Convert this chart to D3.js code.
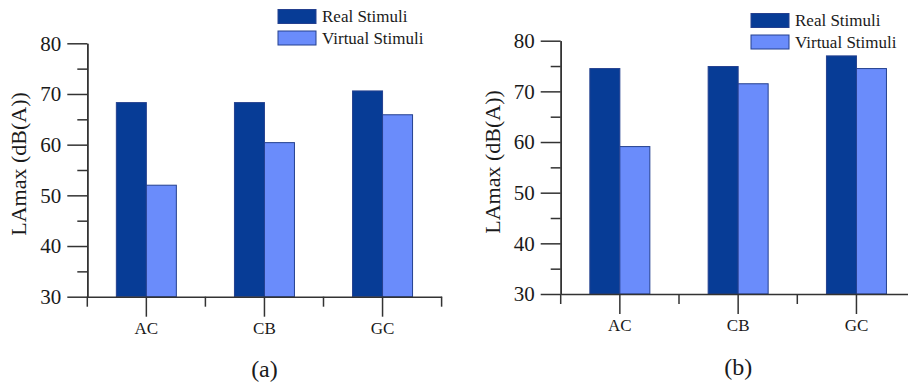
<!DOCTYPE html>
<html>
<head>
<meta charset="utf-8">
<script src="https://cdn.jsdelivr.net/npm/d3@7"></script>
<style>
  body { margin: 0; background: #fff; }
  svg { display: block; font-family: "Liberation Serif", "Times New Roman", serif; }
  .axis path, .axis line { stroke: #333; stroke-width: 1.5; }
  .axis text { font-size: 21px; fill: #1a1a1a; font-family: "Liberation Serif", serif; }
</style>
</head>
<body>
<svg id="chart" width="908" height="391"></svg>
<script>
// data
var categories = ['AC', 'CB', 'GC'];
var seriesNames = ['Real Stimuli', 'Virtual Stimuli'];
var realA = [68.3, 68.3, 70.6];
var virtualA = [52.0, 60.4, 65.9];
var realB = [74.5, 74.9, 77.0];
var virtualB = [59.1, 71.5, 74.5];
var yTicks = [30, 40, 50, 60, 70, 80];
var yMinorTicks = [35, 45, 55, 65, 75];

var colors = ['#073c96', '#6a8cfb'];
var strokeColor = '#24408f';

var svg = d3.select('#chart');

// one panel = one grouped bar chart
function drawPanel(opt) {
  var g = svg.append('g');

  var y = d3.scaleLinear().domain([30, 80]).range([opt.bottom, opt.top]);
  var x0 = d3.scaleBand().domain(categories).range([opt.left, opt.left + opt.step * categories.length]);
  var bw = x0.bandwidth();
  var x1 = d3.scaleBand().domain(seriesNames).range([bw / 2 - opt.barW, bw / 2 + opt.barW]);

  var rows = categories.map(function(c, i) {
    return { cat: c, values: [opt.real[i], opt.virtual[i]] };
  });

  // bars
  var groups = g.selectAll('g.cat')
    .data(rows)
    .enter()
    .append('g')
      .attr('class', 'cat')
      .attr('transform', function(d) { return 'translate(' + x0(d.cat) + ',0)'; });

  groups.selectAll('rect')
    .data(function(d) { return d.values.map(function(v, j) { return { s: seriesNames[j], v: v, j: j }; }); })
    .enter()
    .append('rect')
      .attr('x', function(d) { return x1(d.s); })
      .attr('width', x1.bandwidth())
      .attr('y', function(d) { return y(d.v); })
      .attr('height', function(d) { return y(30) - y(d.v); })
      .style('fill', function(d) { return colors[d.j]; })
      .style('stroke', strokeColor)
      .style('stroke-width', 1);

  // y axis, major + minor ticks
  g.append('g')
    .attr('class', 'axis')
    .attr('transform', 'translate(' + opt.left + ',0)')
    .call(d3.axisLeft(y).tickValues(yTicks).tickSize(20).tickSizeOuter(0).tickPadding(6));
  g.append('g')
    .attr('class', 'axis')
    .attr('transform', 'translate(' + opt.left + ',0)')
    .call(d3.axisLeft(y).tickValues(yMinorTicks).tickSize(10).tickSizeOuter(0).tickFormat(''));

  // x axis, category ticks + boundary ticks
  var xAxis = g.append('g')
    .attr('class', 'axis')
    .attr('transform', 'translate(0,' + opt.bottom + ')')
    .call(d3.axisBottom(x0).tickSize(20).tickSizeOuter(0).tickPadding(5));
  xAxis.selectAll('text').style('font-size', '17px');

  var bounds = d3.range(categories.length + 1).map(function(i) { return opt.left + i * x0.step(); });
  xAxis.selectAll('line.minor')
    .data(bounds)
    .enter()
    .append('line')
      .attr('class', 'minor')
      .attr('x1', function(d) { return d; })
      .attr('x2', function(d) { return d; })
      .attr('y1', 0)
      .attr('y2', 10);

  // y axis title
  g.append('text')
    .attr('transform', 'translate(' + opt.titleX + ',' + opt.titleY + ') rotate(-90)')
    .attr('text-anchor', 'middle')
    .style('font-size', '22px')
    .style('fill', '#1a1a1a')
    .text('LAmax (dB(A))');

  // panel label
  g.append('text')
    .attr('x', opt.left + opt.step * 1.5)
    .attr('y', opt.labelY)
    .attr('text-anchor', 'middle')
    .style('font-size', '24px')
    .style('fill', '#1a1a1a')
    .text(opt.label);

  // legend
  var legend = g.append('g');
  seriesNames.forEach(function(name, i) {
    var ly = opt.legendY + i * 21.5;
    legend.append('rect')
      .attr('x', opt.legendX)
      .attr('y', ly)
      .attr('width', 38)
      .attr('height', 14)
      .style('fill', colors[i])
      .style('stroke', strokeColor)
      .style('stroke-width', 1);
    legend.append('text')
      .attr('x', opt.legendX + 44)
      .attr('y', ly + 12.5)
      .style('font-size', '17px')
      .style('fill', '#1a1a1a')
      .text(name);
  });
}

drawPanel({
  left: 87.3, top: 43.3, bottom: 296.7, step: 118.1, barW: 30,
  real: realA, virtual: virtualA,
  titleX: 26, titleY: 164, labelY: 377, label: '(a)',
  legendX: 278, legendY: 9.5
});

drawPanel({
  left: 560.7, top: 40.7, bottom: 294, step: 118.3, barW: 30,
  real: realB, virtual: virtualB,
  titleX: 500, titleY: 162, labelY: 375, label: '(b)',
  legendX: 751, legendY: 13.5
});
</script>
</body>
</html>
